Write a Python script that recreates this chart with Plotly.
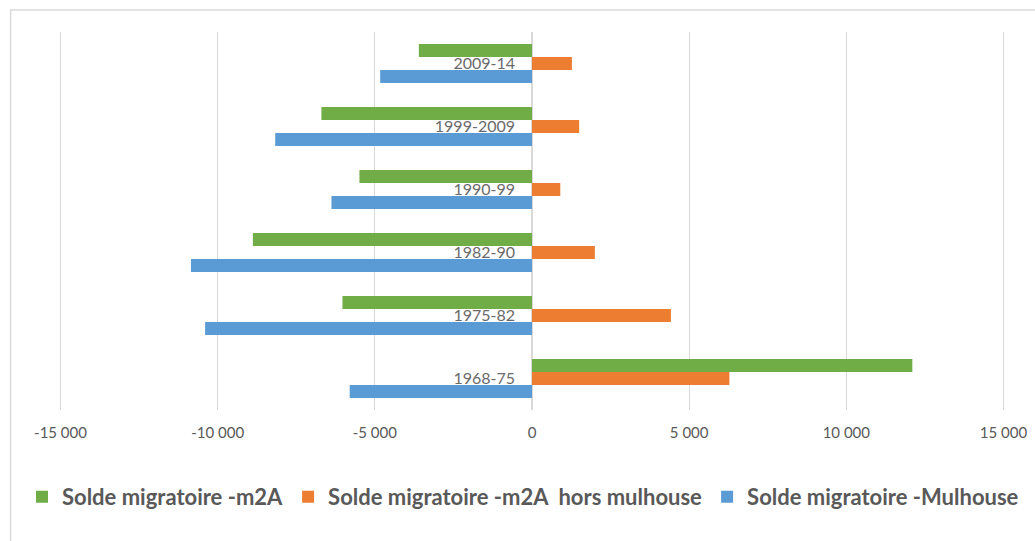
"""Solde migratoire par période — barres horizontales groupées."""

import plotly.graph_objects as go

periodes = ["1968-75", "1975-82", "1982-90", "1990-99", "1999-2009", "2009-14"]
mulhouse = [-5800, -10400, -10850, -6380, -8170, -4830]
m2a_hors_mulhouse = [6280, 4420, 2000, 900, 1500, 1270]
m2a = [12100, -6030, -8880, -5490, -6700, -3600]

x_ticks = [-15000, -10000, -5000, 0, 5000, 10000, 15000]
x_tick_labels = ["-15 000", "-10 000", "-5 000", "0", "5 000", "10 000", "15 000"]

GREY = "#595959"
FONT = "Lato, Open Sans, sans-serif"

fig = go.Figure()
fig.add_trace(go.Bar(y=periodes, x=mulhouse, orientation="h",
                     name="Solde migratoire -Mulhouse",
                     marker=dict(color="#5B9BD5", line_width=0)))
fig.add_trace(go.Bar(y=periodes, x=m2a_hors_mulhouse, orientation="h",
                     name="Solde migratoire -m2A  hors mulhouse",
                     marker=dict(color="#ED7D31", line_width=0)))
fig.add_trace(go.Bar(y=periodes, x=m2a, orientation="h",
                     name="Solde migratoire -m2A",
                     marker=dict(color="#70AD47", line_width=0)))

fig.update_layout(
    width=1035, height=541,
    margin=dict(l=58, r=29, t=32, b=131, autoexpand=False),
    paper_bgcolor="white", plot_bgcolor="white",
    barmode="group", bargap=0.38, bargroupgap=0,
    font=dict(family=FONT, color=GREY),
    # range un peu élargi pour que plotly garde les grilles à ±15 000
    xaxis=dict(range=[-15080, 15080], tickvals=x_ticks, ticktext=x_tick_labels,
               showgrid=True, gridcolor="#d9d9d9", gridwidth=1,
               zeroline=True, zerolinecolor="#d9d9d9", zerolinewidth=2,
               showline=False, tickfont=dict(size=15, color=GREY),
               ticks="", ticklabelstandoff=12),
    yaxis=dict(range=[-0.5, 5.5], anchor="free", position=0.5,
               showgrid=False, zeroline=False, showline=False, ticks="",
               tickfont=dict(size=16, color="#6a6a6a"), ticklabelstandoff=17),
    legend=dict(orientation="h", traceorder="reversed",
                x=-0.038, xanchor="left", y=-0.23, yanchor="middle",
                font=dict(size=22, color=GREY, family=FONT, weight="bold"),
                itemclick=False),
    shapes=[dict(type="rect", xref="paper", yref="paper",
                 x0=-0.05, x1=1.1, y0=-0.5, y1=1.058,
                 line=dict(color="#d9d9d9", width=1.5), layer="below")],
)

fig.write_html("out.html", config={"displayModeBar": False},
               post_script="document.body.style.margin = '0';")
